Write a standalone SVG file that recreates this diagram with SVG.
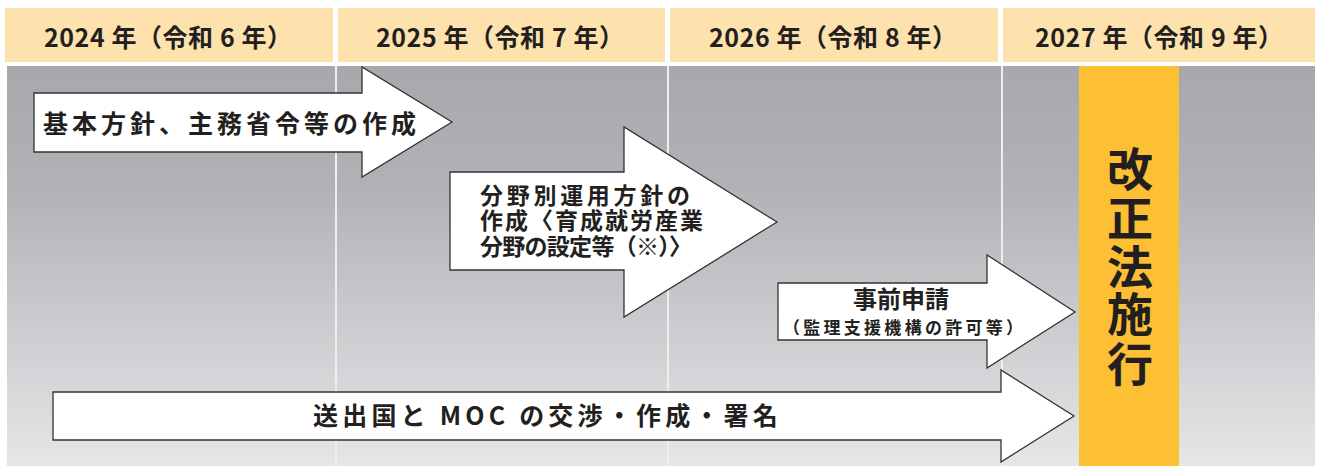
<svg xmlns="http://www.w3.org/2000/svg" width="1320" height="466" viewBox="0 0 1320 466">
<defs>
<linearGradient id="bg" x1="0" y1="0" x2="0" y2="1">
<stop offset="0" stop-color="#a6a8ab"/>
<stop offset="0.3" stop-color="#b0b2b5"/>
<stop offset="1" stop-color="#e5e6e8"/>
</linearGradient>
<style>
.hdr{fill:#fde2ae}
.ht{font-family:"Noto Sans CJK JP","Noto Sans",sans-serif;font-weight:700;font-size:25px;fill:#231f20;text-anchor:middle}
.arr{fill:#ffffff;stroke:#333333;stroke-width:1.3;stroke-linejoin:miter}
.t{font-family:"Noto Sans CJK JP","Noto Sans",sans-serif;font-weight:700;fill:#231f20}
.vl{stroke:#eeeeee;stroke-width:2}
</style>
</defs>
<rect width="1320" height="466" fill="#ffffff"/>
<g id="headers">
<rect class="hdr" x="5" y="8" width="328" height="54"/>
<rect class="hdr" x="338" y="8" width="327" height="54"/>
<rect class="hdr" x="670" y="8" width="328" height="54"/>
<rect class="hdr" x="1003" y="8" width="312" height="54"/>
<text class="ht" x="168" y="47" textLength="248" lengthAdjust="spacing">2024 年（令和 6 年）</text>
<text class="ht" x="500" y="47" textLength="248" lengthAdjust="spacing">2025 年（令和 7 年）</text>
<text class="ht" x="833" y="47" textLength="248" lengthAdjust="spacing">2026 年（令和 8 年）</text>
<text class="ht" x="1159" y="47" textLength="248" lengthAdjust="spacing">2027 年（令和 9 年）</text>
</g>
<g id="body">
<rect x="7" y="66" width="1308" height="400" fill="url(#bg)"/>
<line class="vl" x1="336" y1="66" x2="336" y2="466"/>
<line class="vl" x1="668" y1="66" x2="668" y2="466"/>
<line class="vl" x1="1002" y1="66" x2="1002" y2="466"/>
</g>
<g id="enforce">
<rect x="1079" y="66" width="100" height="400" fill="#fdbf33"/>
<text class="t" font-size="46" text-anchor="middle"><tspan x="1130" y="186">改</tspan><tspan x="1130" y="235">正</tspan><tspan x="1130" y="284">法</tspan><tspan x="1130" y="331">施</tspan><tspan x="1130" y="381">行</tspan></text>
</g>
<g id="connectors">
<g id="arrow1">
<path class="arr" d="M34 93 H362 V67 L452 122 L362 177 V152 H34 Z"/>
<text class="t" font-size="25" x="43" y="133" textLength="373" lengthAdjust="spacing">基本方針、主務省令等の作成</text>
</g>
<g id="arrow2">
<path class="arr" d="M450 172 H624 V127 L777 222 L624 317 V270 H450 Z"/>
<text class="t" font-size="23" x="480" y="204" textLength="210" lengthAdjust="spacing">分野別運用方針の</text>
<text class="t" font-size="23" x="480" y="229" textLength="223" lengthAdjust="spacing">作成〈育成就労産業</text>
<text class="t" font-size="23" x="480" y="255" textLength="212" lengthAdjust="spacing">分野の設定等（※）〉</text>
</g>
<g id="arrow3">
<path class="arr" d="M778 283 H987 V255 L1075 312 L987 368 V340 H778 Z"/>
<text class="t" font-size="24" x="901" y="308" text-anchor="middle">事前申請</text>
<text class="t" font-size="17" x="783" y="334" textLength="240" lengthAdjust="spacing">（監理支援機構の許可等）</text>
</g>
<g id="arrow4">
<path class="arr" d="M53 392 H1001 V370 L1074 416 L1001 462 V440 H53 Z"/>
<text class="t" font-size="25" x="313" y="425" letter-spacing="4.2">送出国と MOC の交渉・作成・署名</text>
</g>
</g>
</svg>
